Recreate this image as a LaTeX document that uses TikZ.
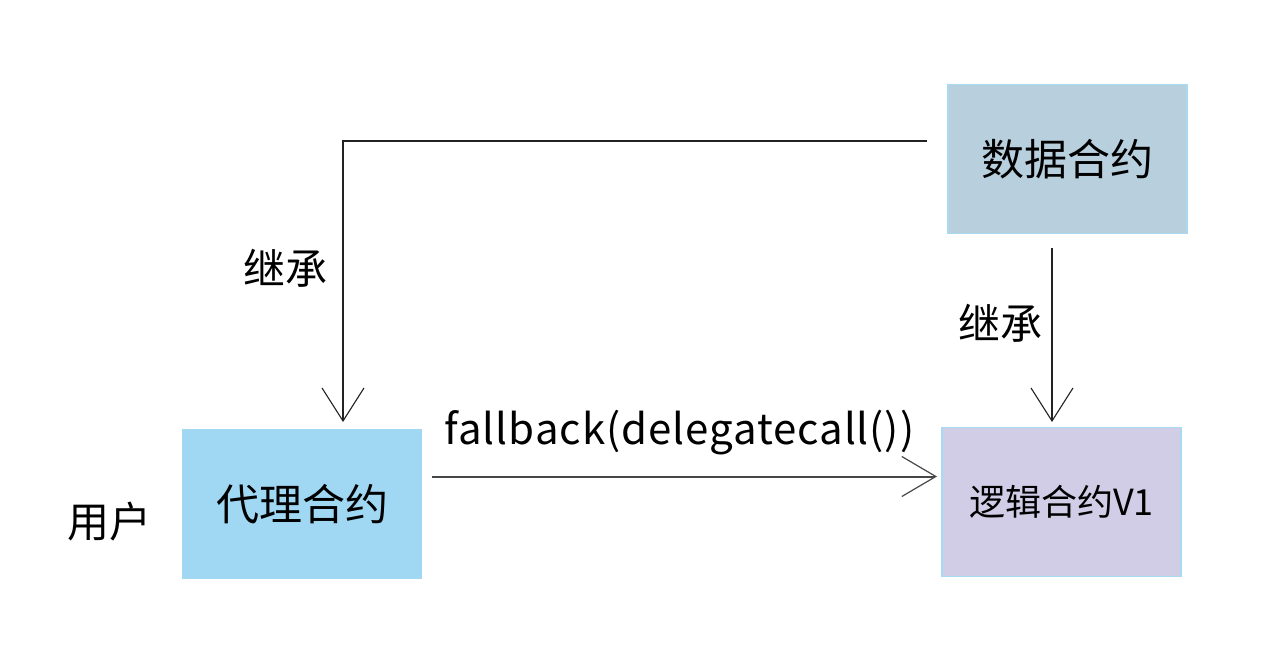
\documentclass[tikz,border=0pt]{standalone}
\usepackage{fontspec}
\setmainfont{Noto Sans CJK SC}
\newfontfamily\latinfont[LetterSpace=2.3]{Noto Sans CJK SC}
\usetikzlibrary{arrows.meta}
\definecolor{datafill}{HTML}{B8CFDD}
\definecolor{proxyfill}{HTML}{A0D8F4}
\definecolor{logicfill}{HTML}{D2CDE6}
\definecolor{boxedge}{HTML}{A8DAF2}
\definecolor{linegray}{HTML}{222222}
\definecolor{arrowgray}{HTML}{474747}
\tikzset{
  box/.style={draw=boxedge, line width=1.5pt, inner sep=0pt, minimum width=239pt, minimum height=149pt, font=\fontsize{43}{50}\selectfont},
  lbl/.style={inner sep=0pt, font=\fontsize{42}{50}\selectfont},
  conn/.style={draw=linegray, line width=1.2pt, -{Straight Barb[length=33pt,width=42pt,line width=1.1pt]}},
  flow/.style={draw=arrowgray, line width=2pt, -{Straight Barb[length=34pt,width=40pt,line width=1.2pt]}},
}
\begin{document}
\begin{tikzpicture}[x=1pt,y=-1pt]
\useasboundingbox[fill=white] (0,0) rectangle (1280,658);
\node[box, fill=datafill] (data) at (1067.5,159) {数据合约};
\node[box, fill=proxyfill, draw=proxyfill] (proxy) at (302,504) {代理合约};
\node[box, fill=logicfill, font=\fontsize{36}{42}\selectfont] (logic) at (1061.5,502) {逻辑合约V1};
\node[lbl] (user) at (109,522) {用户};
\node[lbl] (inh1) at (285,268) {继承};
\node[lbl] (inh2) at (1000,323) {继承};
\node[inner sep=0pt, anchor=base, font=\latinfont\fontsize{42}{50}\selectfont] (fb) at (679.5,444) {fallback(delegatecall())};
\coordinate (c1) at (927,141);
\coordinate (c2) at (343,141);
\coordinate (c3) at (343,422);
\coordinate (d1) at (1052,248);
\coordinate (d2) at (1052,422);
\coordinate (h1) at (432,476.5);
\coordinate (h2) at (937,476.5);
\draw[conn] (c1) -- (c2) -- (c3);
\draw[conn] (d1) -- (d2);
\draw[flow] (h1) -- (h2);
\end{tikzpicture}
\end{document}
